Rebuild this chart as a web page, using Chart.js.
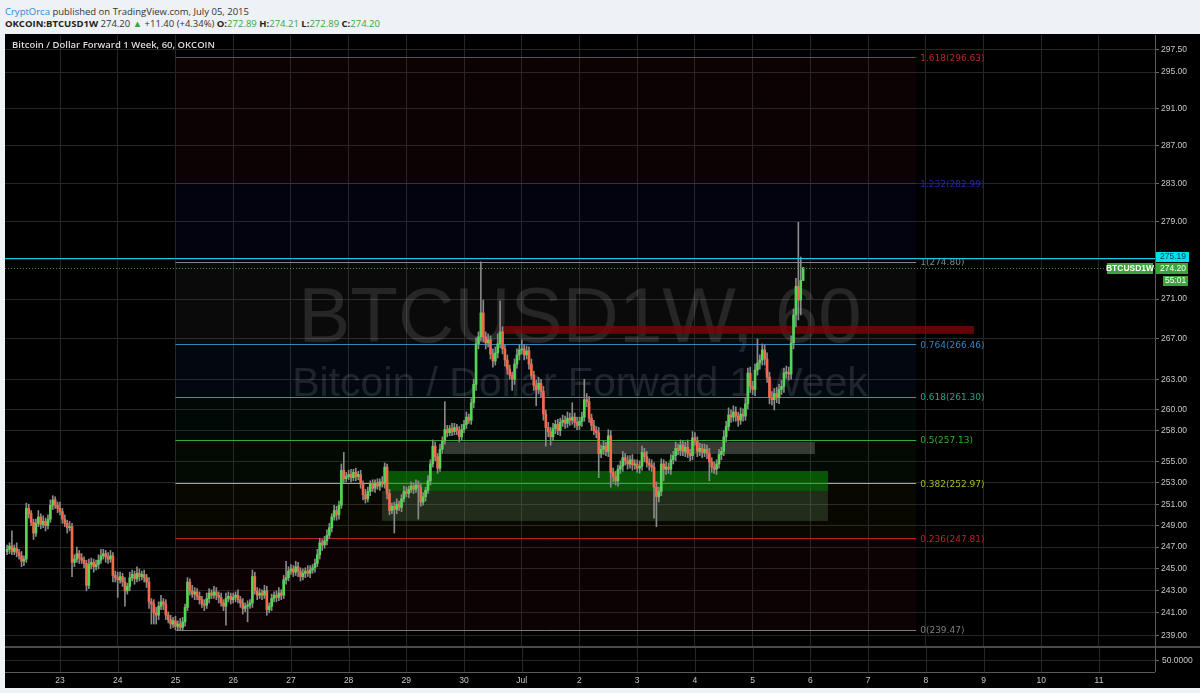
<!DOCTYPE html>
<html>
<head>
<meta charset="utf-8">
<title>BTCUSD1W, 60</title>
<script src="https://cdn.jsdelivr.net/npm/chart.js@4.4.1/dist/chart.umd.min.js"></script>
<style>
  html, body { margin: 0; padding: 0; }
  body { width: 1200px; height: 693px; background: #eef1f5; overflow: hidden; position: relative; font-family: "Open Sans", sans-serif; }
  .hdr { position: absolute; left: 5px; font-size: 9.5px; line-height: 13px; color: #333; white-space: nowrap; }
  #h1 { top: 5px; }
  #h2 { top: 17px; }
  .author { color: #2e86d6; }
  .b { font-weight: 700; color: #222; }
  .up { color: #36a83a; }
  #wrap { position: absolute; left: 5px; top: 34px; width: 1195px; height: 654px; background: #000; }
</style>
</head>
<body>
<div class="hdr" id="h1"><span class="author">CryptOrca</span> published on TradingView.com, July 05, 2015</div>
<div class="hdr" id="h2"><span class="b">OKCOIN:BTCUSD1W</span> 274.20 <span class="up">&#9650;</span> +11.40 (+4.34%) <span class="b">O:</span><span class="up">272.89</span> <span class="b">H:</span><span class="up">274.21</span> <span class="b">L:</span><span class="up">272.89</span> <span class="b">C:</span><span class="up">274.20</span></div>
<div id="wrap"><canvas id="chart"></canvas></div>
<script>
// hours are counted from Jun 23 00:00, one candle per hour
const firstHour = -22;
const firstOpen = 246.6;

const closes = [
  // Jun 22 (from 02:00)
  246.8, 247.1, 246.6, 246.9, 246.5, 246.2, 245.7, 245.9, 250.6, 250.1, 249.3, 248.3, 249.2, 249.8, 249.1, 249.4, 249.0, 249.6, 250.9, 251.4, 250.9, 250.6,
  // Jun 23
  250.3, 249.6, 249.2, 248.8, 248.9, 245.6, 245.9, 246.4, 246.0, 245.8, 245.5, 243.5, 245.4, 245.6, 245.2, 245.4, 245.8, 246.2, 246.4, 246.1, 245.9, 246.2, 244.4, 244.2,
  // Jun 24
  244.0, 244.3, 243.8, 243.0, 243.4, 244.2, 244.5, 244.1, 244.6, 244.3, 244.5, 244.2, 243.8, 242.0, 241.8, 241.0, 240.8, 241.6, 242.0, 241.8, 240.8, 240.4, 240.0, 240.3,
  // Jun 25
  239.8, 240.0, 239.7, 240.2, 241.5, 243.8, 243.0, 242.7, 242.9, 242.5, 242.2, 241.8, 241.7, 242.3, 242.8, 242.6, 242.9, 242.6, 242.4, 241.9, 241.6, 242.3, 242.5, 242.2,
  // Jun 26
  242.4, 242.6, 242.2, 241.9, 241.4, 241.6, 241.7, 241.9, 244.3, 243.0, 242.6, 242.8, 242.6, 243.0, 241.3, 241.6, 242.3, 242.6, 242.4, 242.8, 242.6, 244.0, 244.2, 244.8,
  // Jun 27
  245.0, 244.7, 245.2, 244.8, 244.3, 244.6, 244.8, 244.6, 244.9, 245.1, 245.5, 246.3, 247.4, 247.2, 247.6, 248.1, 248.8, 249.8, 250.4, 250.0, 250.9, 254.2, 253.4, 253.6,
  // Jun 28
  253.8, 253.5, 254.0, 253.6, 253.8, 252.9, 251.9, 251.5, 252.2, 252.9, 252.5, 253.0, 252.7, 253.1, 252.9, 254.5, 252.0, 250.4, 250.8, 250.5, 251.0, 250.7, 251.5, 252.2,
  // Jun 29
  252.0, 252.4, 252.7, 252.4, 252.8, 252.6, 251.2, 251.7, 252.3, 253.2, 254.8, 256.5, 255.5, 254.4, 256.2, 257.0, 258.1, 257.8, 258.2, 257.9, 258.3, 258.0, 257.4, 258.1,
  // Jun 30
  258.6, 259.3, 259.0, 260.7, 262.5, 266.5, 267.2, 269.6, 267.2, 266.6, 266.9, 265.5, 264.8, 265.6, 266.5, 267.7, 266.0, 264.9, 264.0, 263.4, 263.0, 264.5, 265.4, 265.9,
  // Jul 1
  266.0, 265.4, 265.8, 264.5, 263.4, 262.4, 262.0, 262.6, 261.8, 259.6, 258.3, 257.9, 257.4, 258.2, 258.6, 258.0, 258.8, 259.0, 258.7, 259.2, 259.0, 259.3, 258.8, 258.5,
  // Jul 2
  258.9, 259.3, 261.0, 260.8, 259.2, 258.5, 258.0, 257.8, 255.8, 256.2, 256.5, 256.0, 257.5, 254.0, 253.6, 253.2, 254.3, 254.6, 255.4, 255.1, 254.8, 255.2, 254.7, 254.8,
  // Jul 3
  254.4, 254.6, 255.9, 255.5, 254.9, 254.7, 254.5, 252.6, 251.7, 252.2, 254.8, 254.3, 254.5, 254.3, 255.2, 255.6, 256.3, 256.1, 256.6, 256.0, 256.4, 255.8, 255.6, 257.3,
  // Jul 4
  257.0, 256.0, 256.3, 255.9, 256.2, 255.8, 255.0, 254.5, 254.3, 254.8, 255.7, 256.0, 257.4, 258.4, 259.5, 259.3, 259.8, 259.4, 259.0, 259.6, 259.4, 260.6, 263.6, 262.3,
  // Jul 5 (to 21:00)
  262.0, 263.9, 264.6, 264.9, 265.9, 265.0, 263.2, 261.2, 261.0, 261.6, 261.2, 262.0, 262.3, 263.6, 263.7, 263.5, 266.6, 269.4, 272.3, 270.9, 272.89, 274.20
];

// wick length above max(open, close) and below min(open, close)
const wickUp = [
  0.4, 0.3, 1.4, 0.3, 0.5, 0.3, 0.4, 0.3, 0.5, 0.4, 0.3, 0.3, 0.4, 0.6, 0.3, 0.5, 0.3, 0.4, 0.5, 0.4, 0.3, 0.3,
  0.6, 0.3, 0.4, 0.3, 0.5, 0.3, 0.4, 0.6, 0.3, 0.4, 0.3, 0.3, 0.5, 0.4, 0.3, 0.4, 0.5, 0.6, 0.4, 0.3, 0.4, 0.5, 0.3, 0.4,
  0.5, 0.4, 0.3, 0.4, 0.3, 0.5, 0.4, 0.3, 0.6, 0.4, 0.3, 0.4, 0.3, 0.4, 0.3, 0.4, 0.5, 0.4, 0.6, 0.3, 0.4, 0.3, 0.4, 0.3,
  0.4, 0.3, 0.5, 0.4, 0.3, 0.4, 0.3, 0.5, 0.4, 0.3, 0.4, 0.3, 0.4, 0.5, 0.4, 0.3, 0.5, 0.4, 0.3, 0.4, 0.3, 0.5, 0.4, 0.3,
  0.4, 0.3, 0.5, 0.3, 0.4, 0.3, 0.4, 0.3, 0.6, 0.4, 0.3, 0.4, 0.3, 0.5, 0.4, 0.3, 0.4, 0.3, 0.4, 0.5, 0.3, 0.4, 1.5, 0.4,
  0.4, 0.3, 0.5, 0.4, 0.3, 0.4, 0.3, 0.5, 0.4, 0.3, 0.4, 0.5, 0.4, 0.3, 0.4, 0.5, 0.4, 0.3, 0.5, 0.4, 0.4, 0.6, 1.7, 0.4,
  0.4, 0.5, 0.3, 0.4, 0.3, 0.4, 0.3, 0.5, 0.4, 0.3, 0.4, 0.3, 0.4, 0.3, 0.5, 0.4, 0.3, 0.4, 0.3, 0.4, 0.5, 0.3, 0.4, 0.5,
  0.4, 0.3, 0.4, 0.3, 0.5, 0.4, 0.3, 0.4, 0.3, 0.5, 0.4, 0.6, 0.4, 0.3, 0.5, 0.4, 2.7, 0.4, 0.3, 0.5, 0.4, 0.3, 0.4, 0.5,
  0.4, 0.5, 0.3, 0.4, 0.5, 0.6, 0.5, 5.2, 1.3, 0.5, 0.6, 0.4, 0.5, 0.6, 1.0, 3.1, 0.5, 0.4, 0.5, 0.4, 0.3, 0.5, 0.6, 0.5,
  0.9, 0.4, 0.5, 0.4, 0.5, 0.4, 0.5, 0.6, 0.4, 0.5, 0.4, 0.5, 0.4, 0.5, 0.4, 0.5, 0.4, 0.5, 0.4, 0.6, 0.5, 1.4, 0.4, 0.5,
  0.4, 0.5, 2.0, 0.6, 0.5, 0.4, 0.5, 0.4, 0.5, 0.4, 0.5, 0.4, 0.6, 0.5, 0.4, 0.5, 0.4, 0.5, 0.6, 0.4, 0.5, 0.4, 0.5, 0.4,
  0.4, 0.5, 0.6, 0.4, 0.5, 0.4, 0.5, 0.4, 0.5, 0.4, 0.5, 0.4, 0.5, 0.4, 0.5, 0.4, 0.6, 0.4, 0.5, 0.4, 0.5, 0.7, 0.4, 0.6,
  0.5, 0.4, 0.5, 0.4, 0.5, 0.4, 0.5, 0.4, 0.5, 0.4, 0.5, 0.4, 0.6, 0.5, 0.7, 0.5, 0.6, 0.5, 0.4, 0.6, 0.5, 0.6, 0.5, 0.6,
  0.5, 0.6, 2.4, 0.5, 0.6, 0.5, 0.6, 0.5, 0.6, 0.5, 0.6, 0.5, 0.6, 0.5, 0.6, 0.5, 0.7, 0.6, 0.8, 6.6, 2.4, 0.01
];
const wickDn = [
  0.3, 0.4, 0.3, 0.3, 0.4, 0.3, 0.5, 0.4, 0.3, 0.4, 0.3, 0.6, 0.3, 0.3, 0.4, 0.3, 0.5, 0.3, 0.3, 0.4, 0.3, 0.4,
  0.3, 0.4, 0.3, 0.5, 0.3, 1.3, 0.4, 0.3, 0.5, 0.3, 0.4, 0.5, 0.3, 0.4, 0.5, 0.3, 0.4, 0.3, 0.3, 0.5, 0.4, 0.3, 0.6, 0.4,
  1.6, 0.3, 0.4, 1.4, 0.3, 0.4, 0.3, 0.5, 0.3, 0.4, 0.3, 0.4, 0.5, 0.6, 1.8, 1.0, 0.8, 0.4, 0.3, 0.5, 0.4, 0.3, 0.4, 0.3,
  0.3, 0.4, 0.23, 0.3, 0.4, 0.3, 0.4, 0.3, 0.5, 0.3, 0.4, 0.3, 0.5, 0.3, 0.4, 0.3, 0.3, 0.4, 0.5, 0.3, 0.4, 1.7, 0.3, 0.4,
  0.3, 0.4, 0.3, 0.4, 0.5, 0.3, 1.4, 0.3, 0.4, 0.3, 0.4, 0.3, 0.4, 0.3, 0.5, 0.3, 0.4, 0.3, 0.4, 0.3, 0.4, 0.3, 0.4, 0.3,
  0.3, 0.4, 0.3, 0.5, 0.4, 0.3, 0.4, 0.3, 0.4, 0.3, 0.4, 0.3, 0.4, 0.5, 0.3, 0.4, 0.3, 0.4, 0.3, 0.5, 0.4, 0.3, 0.4, 0.3,
  0.3, 0.4, 0.3, 0.4, 0.3, 0.4, 0.5, 0.4, 0.3, 0.4, 0.3, 0.4, 0.3, 0.4, 0.3, 0.4, 0.5, 0.4, 0.3, 2.2, 0.4, 0.3, 0.4, 0.3,
  0.3, 0.4, 0.3, 0.4, 0.3, 3.0, 0.4, 0.3, 0.4, 0.3, 0.4, 0.3, 0.4, 0.5, 0.3, 0.4, 0.3, 0.4, 0.3, 0.4, 0.3, 0.4, 0.5, 0.3,
  0.3, 0.4, 0.3, 0.4, 0.5, 0.6, 0.5, 0.4, 0.5, 0.6, 0.4, 0.5, 0.6, 0.4, 0.5, 0.4, 0.5, 0.6, 0.5, 0.4, 1.1, 0.5, 0.4, 0.5,
  0.4, 0.5, 0.4, 0.5, 0.4, 0.5, 1.6, 0.4, 0.5, 0.6, 1.8, 0.5, 0.8, 0.4, 0.5, 0.4, 0.5, 0.4, 0.5, 0.4, 0.5, 0.4, 0.5, 0.4,
  0.4, 0.5, 0.4, 0.5, 0.4, 0.5, 0.4, 0.5, 2.3, 0.4, 0.5, 0.4, 0.5, 1.4, 0.5, 0.4, 0.5, 0.4, 0.5, 0.4, 0.5, 0.4, 0.5, 0.4,
  0.4, 0.5, 0.4, 0.5, 0.4, 0.5, 0.4, 2.9, 2.8, 0.5, 0.4, 1.1, 0.5, 0.4, 0.5, 0.4, 0.5, 0.4, 0.5, 0.4, 0.5, 0.4, 0.5, 0.4,
  0.4, 0.5, 0.4, 0.5, 0.4, 0.5, 1.8, 0.5, 0.4, 0.5, 0.4, 0.5, 0.4, 0.5, 0.4, 0.5, 0.4, 0.5, 0.6, 0.4, 0.5, 0.4, 0.5, 0.6,
  0.5, 0.6, 0.5, 0.6, 0.5, 0.6, 0.5, 0.6, 0.5, 1.0, 0.5, 0.6, 0.5, 0.6, 0.5, 0.6, 0.5, 0.6, 1.2, 2.0, 1.5, 0.0
];

const dayTicks = [0, 24, 48, 72, 96, 120, 144, 168, 192, 216, 240, 264, 288, 312, 336, 360, 384, 408, 432];
const dayLabels = ['23', '24', '25', '26', '27', '28', '29', '30', 'Jul', '2', '3', '4', '5', '6', '7', '8', '9', '10', '11'];
const yTicks = [239, 241, 243, 245, 247, 249, 251, 253, 255, 258, 260, 263, 267, 271, 275, 279, 283, 287, 291, 295, 297.5];
const lowerPaneLevel = '50.0000';

// fibonacci retracement drawn from Jun 25 00:00 to Jul 7 20:00
const fibFrom = 48, fibTo = 356;
const fibLabels = ['0', '0.236', '0.382', '0.5', '0.618', '0.764', '1', '1.232', '1.618'];
const fibPrices = [239.47, 247.81, 252.97, 257.13, 261.30, 266.46, 274.80, 282.99, 296.63];
const fibColors = ['#7d7d7d', '#b82626', '#a9b91f', '#2fae2f', '#1fa58a', '#2f86c0', '#858585', '#2525a8', '#b82626'];
const fibFills = ['rgba(120,10,30,0.10)', 'rgba(110,120,20,0.07)', 'rgba(40,140,40,0.07)', 'rgba(20,130,90,0.07)',
                  'rgba(30,100,160,0.08)', 'rgba(110,110,110,0.09)', 'rgba(30,30,160,0.10)', 'rgba(120,10,30,0.10)'];

// drawn rectangles: [from hour, to hour, top price, bottom price]
const resistanceBar = [184.2, 380, 268.3, 267.5];
const greyBox = [159.7, 313.9, 256.9, 255.75];
const greenBox = [135.1, 319.3, 254.13, 252.24];
const olivBox = [133.9, 319.3, 252.24, 249.43];

const alertPrice = 275.19;
const lastPrice = 274.20;
const countdown = '55:01';
const symbolName = 'BTCUSD1W';
const paneTitle = 'Bitcoin / Dollar Forward 1 Week, 60, OKCOIN';
const watermark = ['BTCUSD1W, 60', 'Bitcoin / Dollar Forward 1 Week'];

const upColor = '#55d455';
const downColor = '#f26a4b';
const gridColor = '#262626';
const axisColor = '#5a5a5a';
const axisFont = '8.5px "Liberation Sans", Arial, sans-serif';

const candles = closes.map((c, i) => {
  const o = i === 0 ? firstOpen : closes[i - 1];
  return { h: firstHour + i, o: o, c: c, hi: Math.max(o, c) + wickUp[i], lo: Math.min(o, c) - wickDn[i] };
});

Chart.defaults.font.family = '"Liberation Sans", Arial, sans-serif';
Chart.defaults.font.size = 8.5;

function fillBox(ctx, xs, ys, b, color) {
  const x0 = xs.getPixelForValue(b[0]), x1 = xs.getPixelForValue(b[1]);
  const y0 = ys.getPixelForValue(b[2]), y1 = ys.getPixelForValue(b[3]);
  ctx.fillStyle = color;
  ctx.fillRect(x0, y0, x1 - x0, y1 - y0);
}

function hLine(ctx, x0, x1, y, color) {
  ctx.strokeStyle = color;
  ctx.beginPath();
  ctx.moveTo(x0, Math.round(y) + 0.5);
  ctx.lineTo(x1, Math.round(y) + 0.5);
  ctx.stroke();
}

const overlay = {
  id: 'overlay',
  beforeDatasetsDraw(chart) {
    const ctx = chart.ctx;
    const xs = chart.scales.x, ys = chart.scales.y;
    const L = chart.chartArea.left, R = chart.chartArea.right;
    ctx.save();
    ctx.beginPath();
    ctx.rect(L, ys.top, R - L, ys.bottom - ys.top);
    ctx.clip();

    // symbol watermark
    ctx.fillStyle = 'rgba(255,255,255,0.12)';
    ctx.textAlign = 'center';
    ctx.textBaseline = 'alphabetic';
    ctx.font = '78px "Liberation Sans", Arial, sans-serif';
    ctx.fillText(watermark[0], (L + R) / 2, 308);
    ctx.font = '41px "Liberation Sans", Arial, sans-serif';
    ctx.fillText(watermark[1], (L + R) / 2, 362);

    // fib zones and levels
    const fx0 = xs.getPixelForValue(fibFrom), fx1 = xs.getPixelForValue(fibTo);
    for (let i = 0; i < fibPrices.length - 1; i++) {
      const ya = ys.getPixelForValue(fibPrices[i]), yb = ys.getPixelForValue(fibPrices[i + 1]);
      ctx.fillStyle = fibFills[i];
      ctx.fillRect(fx0, yb, fx1 - fx0, ya - yb);
    }
    ctx.lineWidth = 1;
    fibPrices.forEach((p, i) => hLine(ctx, fx0, fx1, ys.getPixelForValue(p), fibColors[i]));
    ctx.font = '9px "DejaVu Sans", Verdana, sans-serif';
    ctx.textAlign = 'left';
    ctx.textBaseline = 'middle';
    fibPrices.forEach((p, i) => {
      ctx.fillStyle = fibColors[i];
      ctx.fillText(fibLabels[i] + '(' + p.toFixed(2) + ')', fx1 + 4, ys.getPixelForValue(p) + 1);
    });

    // drawn boxes
    fillBox(ctx, xs, ys, greyBox, 'rgba(120,128,120,0.42)');
    fillBox(ctx, xs, ys, olivBox, 'rgba(90,120,80,0.32)');
    fillBox(ctx, xs, ys, greenBox, 'rgba(10,150,10,0.55)');
    fillBox(ctx, xs, ys, resistanceBar, 'rgba(120,8,8,0.80)');
    ctx.restore();
  },
  afterDatasetsDraw(chart) {
    const ctx = chart.ctx;
    const ys = chart.scales.y;
    const L = chart.chartArea.left, R = chart.chartArea.right;
    ctx.save();
    ctx.lineWidth = 1;
    hLine(ctx, L, R, ys.getPixelForValue(alertPrice), '#17c9e0');
    ctx.setLineDash([1, 2]);
    hLine(ctx, L, R, ys.getPixelForValue(lastPrice), '#3e9e3e');
    ctx.restore();
  },
  afterDraw(chart) {
    const ctx = chart.ctx;
    const xs = chart.scales.x, ys = chart.scales.y;
    const L = chart.chartArea.left, R = chart.chartArea.right;
    const top = Math.round(ys.bottom), bottom = top + 25;
    ctx.save();

    // lower indicator pane
    ctx.lineWidth = 1;
    dayTicks.forEach(t => {
      const x = Math.round(xs.getPixelForValue(t)) + 0.5;
      ctx.strokeStyle = gridColor;
      ctx.beginPath(); ctx.moveTo(x, top); ctx.lineTo(x, bottom); ctx.stroke();
    });
    hLine(ctx, L, R, top + 13, gridColor);
    hLine(ctx, R, R + 4, top + 13, '#6a6a6a');
    hLine(ctx, L, R, bottom, axisColor);
    ctx.fillStyle = '#4a4a4a';
    ctx.fillRect(L, top - 1, R - L + 45, 2);
    ctx.strokeStyle = axisColor;
    ctx.beginPath(); ctx.moveTo(R + 0.5, top); ctx.lineTo(R + 0.5, bottom); ctx.stroke();
    ctx.fillStyle = '#c8c8c8';
    ctx.font = axisFont;
    ctx.textAlign = 'left';
    ctx.textBaseline = 'middle';
    ctx.fillText(lowerPaneLevel, R + 7, top + 14);

    // pane title
    ctx.fillStyle = '#dcdcdc';
    ctx.font = '600 9.5px "Open Sans", sans-serif';
    ctx.fillText(paneTitle, 7, 11);

    // price labels on the axis
    ctx.font = axisFont;
    const ya = Math.round(ys.getPixelForValue(alertPrice));
    const yl = Math.round(ys.getPixelForValue(lastPrice));
    ctx.fillStyle = '#00e1f0';
    ctx.fillRect(R + 1, ya - 6, 33, 10);
    ctx.fillStyle = '#164050';
    ctx.fillText(alertPrice.toFixed(2), R + 5, ya - 1);
    ctx.fillStyle = '#3aa53a';
    ctx.fillRect(R + 1, yl - 5, 32, 11);
    ctx.fillRect(R + 8, yl + 8, 25, 10);
    ctx.fillRect(R - 48, yl - 5, 46, 11);
    ctx.fillStyle = '#ffffff';
    ctx.fillText(lastPrice.toFixed(2), R + 5, yl + 1);
    ctx.fillText(countdown, R + 10, yl + 13);
    ctx.textAlign = 'center';
    ctx.font = 'bold 8.5px "Liberation Sans", Arial, sans-serif';
    ctx.fillText(symbolName, R - 25, yl + 1);
    ctx.restore();
  }
};

new Chart(document.getElementById('chart'), {
  type: 'bar',
  data: {
    datasets: [
      {
        label: 'bodies',
        data: candles.map(k => ({ x: k.h, y: [k.o, k.c] })),
        backgroundColor: candles.map(k => k.c >= k.o ? upColor : downColor),
        barThickness: 2,
        minBarLength: 1,
        grouped: false,
        order: 0
      },
      {
        label: 'wicks',
        data: candles.map(k => ({ x: k.h, y: [k.lo, k.hi] })),
        backgroundColor: '#8a8a8a',
        barThickness: 1,
        grouped: false,
        order: 1
      }
    ]
  },
  options: {
    responsive: true,
    maintainAspectRatio: false,
    animation: false,
    events: [],
    layout: { autoPadding: false, padding: { top: 1, left: 0, right: 0, bottom: 0 } },
    plugins: { legend: { display: false }, tooltip: { enabled: false } },
    scales: {
      x: {
        type: 'linear',
        offset: false,
        bounds: 'data',
        min: -22.87,
        max: 455.3,
        afterBuildTicks: s => { s.ticks = dayTicks.map(v => ({ value: v })); },
        afterFit: s => { s.height = 41; s.paddingLeft = 0; s.paddingRight = 0; },
        ticks: { callback: (v, i) => dayLabels[i], color: '#c8c8c8', autoSkip: false, maxRotation: 0, padding: 29 },
        grid: { color: gridColor, drawTicks: false, offset: false },
        border: { display: false }
      },
      y: {
        type: 'logarithmic',
        position: 'right',
        bounds: 'data',
        min: 237.95,
        max: 299.12,
        afterBuildTicks: s => { s.ticks = yTicks.map(v => ({ value: v })); },
        afterFit: s => { s.width = 45; s.paddingTop = 0; s.paddingBottom = 0; },
        ticks: { callback: v => (v === 275 ? '' : Number(v).toFixed(2)), color: '#c8c8c8', autoSkip: false, padding: 2 },
        grid: { color: gridColor, tickColor: '#6a6a6a', tickLength: 4 },
        border: { color: axisColor }
      }
    }
  },
  plugins: [overlay]
});
</script>
</body>
</html>
